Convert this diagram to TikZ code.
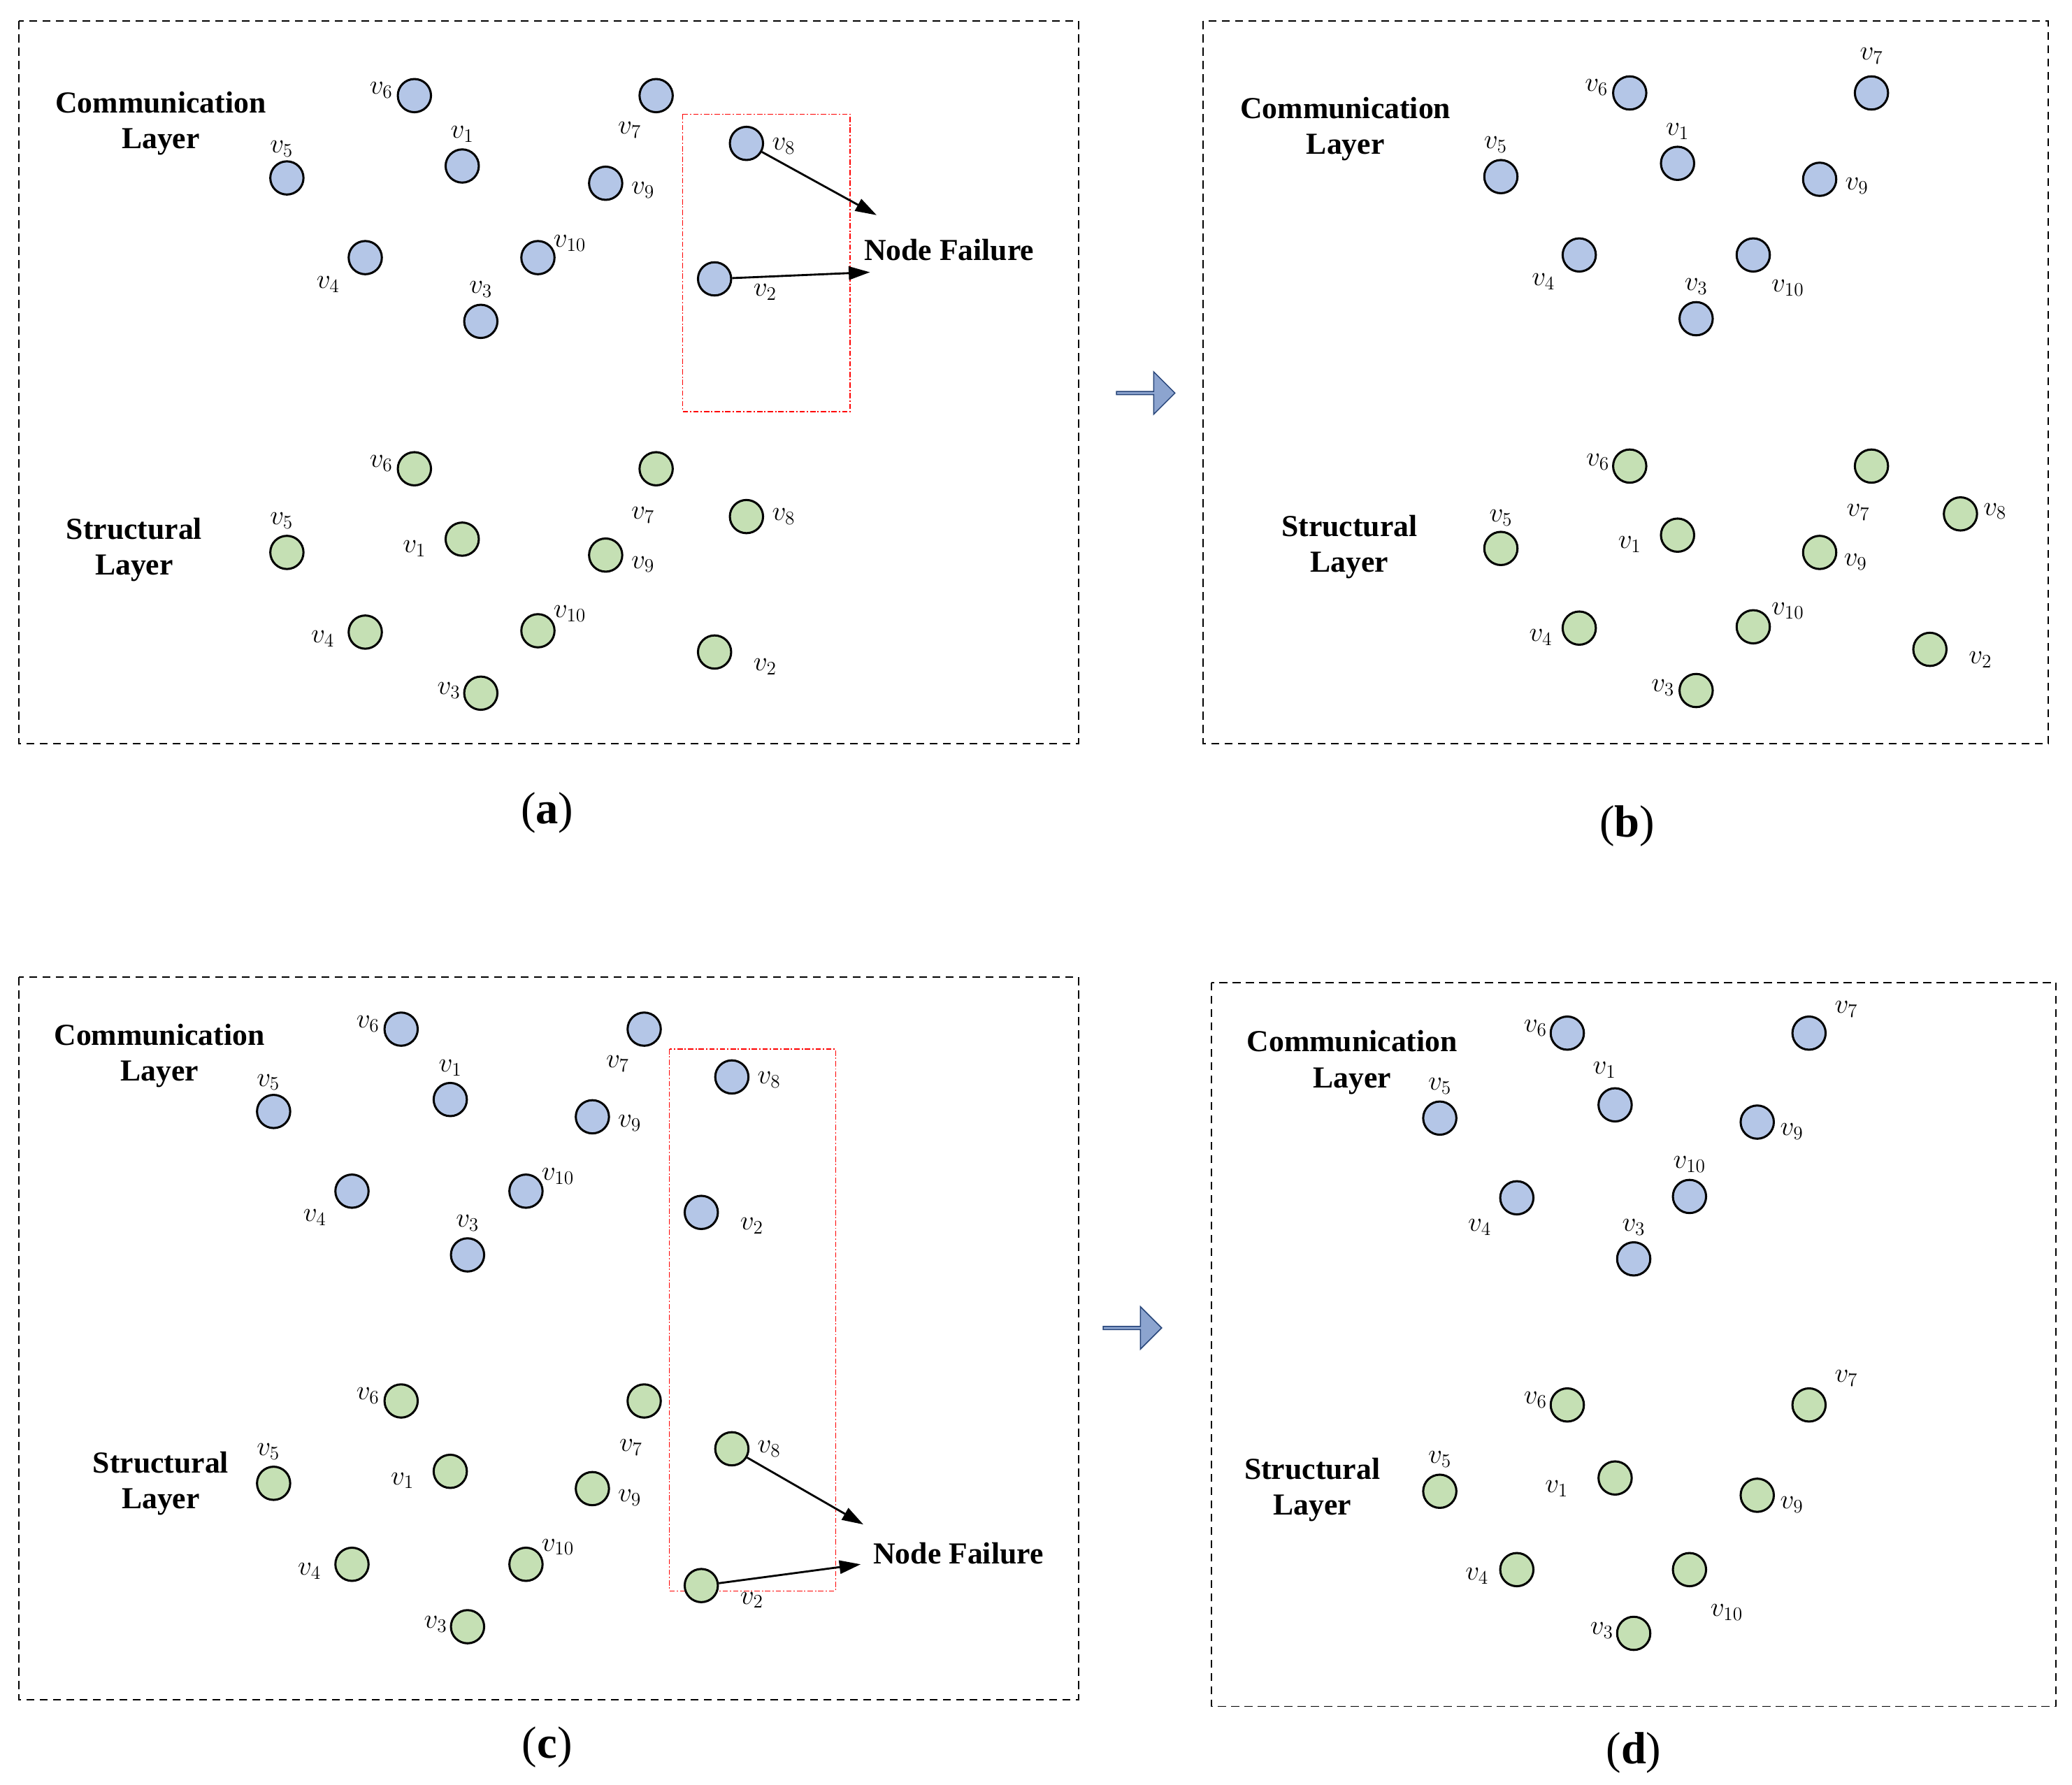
\documentclass[tikz,border=0pt]{standalone}
\usepackage{fontspec}
\setmainfont{Liberation Serif}
\usetikzlibrary{calc,arrows.meta,shapes.arrows}
\pgfdeclarelayer{bg}\pgfsetlayers{bg,main}
\definecolor{cfill}{HTML}{B4C6E7}
\definecolor{sfill}{HTML}{C5E0B4}
\definecolor{dblue}{HTML}{2F5597}
\tikzset{
 cn/.style={circle,draw=black,line width=1.6pt,fill=cfill,minimum size=25pt,inner sep=0pt},
 sn/.style={circle,draw=black,line width=1.6pt,fill=sfill,minimum size=25pt,inner sep=0pt},
 lab/.style={font=\fontsize{22}{22}\selectfont,inner sep=0pt},
 ed/.style={line width=1.5pt,black},
 redge/.style={line width=1.8pt,draw=red},
 vd/.style={dblue,line width=1.1pt,dash pattern=on 7pt off 4pt},
 box/.style={draw=black,line width=1pt,dash pattern=on 6pt off 4pt},
 rbox/.style={draw=red,line width=0.6pt,dash pattern=on 4pt off 1.5pt on 1pt off 1.5pt},
 layer/.style={font=\fontsize{23}{27}\selectfont\bfseries,align=center},
 capt/.style={font=\fontsize{34}{34}\selectfont},
 nf/.style={font=\fontsize{23}{23}\selectfont\bfseries},
 arr/.style={line width=1.5pt,-{Triangle[length=16pt,width=10pt]}},
 bigarr/.style={single arrow,draw=dblue!80!black,fill=cfill!70!dblue,line width=0.8pt,minimum height=44pt,minimum width=32pt,single arrow head extend=5pt,inner sep=0pt}
}
\newcommand\vn[6]{\node[#2] (#1) at (#3,#4) {}; \node[lab] (#1t) at ($(#1)+(#5)$) {$v_{#6}$};}
\begin{document}
\begin{tikzpicture}[x=1pt,y=-1pt]
\useasboundingbox (0,0) rectangle (1560,1344);
\fill[white] (0,0) rectangle (1560,1344);
% boxes
\draw[box] (14,16) rectangle (812,560);
\draw[box] (906,16) rectangle (1542,560);
\draw[box] (14,736) rectangle (812,1280);
\draw[box] (912,740) rectangle (1548,1285);
\draw[rbox] (514,86) rectangle (640,310);
\draw[rbox] (504,790) rectangle (629,1198);
% ===== panel a =====
\vn{ac6}{cn}{312}{72}{-25,-4}{6}
\vn{ac7}{cn}{494}{72}{-20,26}{7}
\vn{ac1}{cn}{348}{125}{0,-24}{1}
\vn{ac5}{cn}{216}{134}{-4,-22}{5}
\vn{ac9}{cn}{456}{138}{28,5}{9}
\vn{ac8}{cn}{562}{108}{28,2}{8}
\vn{ac4}{cn}{275}{194}{-28,20}{4}
\vn{ac10}{cn}{405}{194}{24,-11}{10}
\vn{ac2}{cn}{538}{210}{38,10}{2}
\vn{ac3}{cn}{362}{242}{0,-24}{3}
\vn{as6}{sn}{312}{353}{-25,-4}{6}
\vn{as7}{sn}{494}{353}{-10,35}{7}
\vn{as1}{sn}{348}{406}{-36,7}{1}
\vn{as5}{sn}{216}{416}{-4,-24}{5}
\vn{as9}{sn}{456}{418}{28,7}{9}
\vn{as8}{sn}{562}{389}{28,0}{8}
\vn{as4}{sn}{275}{476}{-32,5}{4}
\vn{as10}{sn}{405}{475}{24,-13}{10}
\vn{as2}{sn}{538}{491}{38,11}{2}
\vn{as3}{sn}{362}{522}{-24,-2}{3}
% ===== panel c =====
\vn{cc6}{cn}{302}{775}{-25,-4}{6}
\vn{cc7}{cn}{485}{775}{-20,26}{7}
\vn{cc1}{cn}{339}{828}{0,-24}{1}
\vn{cc5}{cn}{206}{837}{-4,-22}{5}
\vn{cc9}{cn}{446}{841}{28,5}{9}
\vn{cc8}{cn}{551}{811}{28,2}{8}
\vn{cc4}{cn}{265}{897}{-28,20}{4}
\vn{cc10}{cn}{396}{897}{24,-11}{10}
\vn{cc2}{cn}{528}{913}{38,10}{2}
\vn{cc3}{cn}{352}{945}{0,-24}{3}
\vn{cs6}{sn}{302}{1055}{-25,-4}{6}
\vn{cs7}{sn}{485}{1055}{-10,35}{7}
\vn{cs1}{sn}{339}{1108}{-36,7}{1}
\vn{cs5}{sn}{206}{1117}{-4,-24}{5}
\vn{cs9}{sn}{446}{1121}{28,7}{9}
\vn{cs8}{sn}{551}{1091}{28,0}{8}
\vn{cs4}{sn}{265}{1178}{-32,5}{4}
\vn{cs10}{sn}{396}{1178}{24,-13}{10}
\vn{cs2}{sn}{528}{1194}{38,11}{2}
\vn{cs3}{sn}{352}{1225}{-24,-2}{3}
% ===== panel b =====
\vn{bc6}{cn}{1227}{70}{-25,-4}{6}
\vn{bc7}{cn}{1409}{70}{0,-28}{7}
\vn{bc1}{cn}{1263}{123}{0,-24}{1}
\vn{bc5}{cn}{1130}{133}{-4,-24}{5}
\vn{bc9}{cn}{1370}{135}{28,5}{9}
\vn{bc4}{cn}{1189}{192}{-27,20}{4}
\vn{bc10}{cn}{1320}{192}{26,25}{10}
\vn{bc3}{cn}{1277}{240}{0,-24}{3}
\vn{bs6}{sn}{1227}{351}{-24,-3}{6}
\vn{bs7}{sn}{1409}{351}{-10,35}{7}
\vn{bs1}{sn}{1263}{403}{-36,7}{1}
\vn{bs5}{sn}{1130}{413}{0,-23}{5}
\vn{bs9}{sn}{1370}{416}{27,7}{9}
\vn{bs8}{sn}{1476}{387}{26,-2}{8}
\vn{bs4}{sn}{1189}{473}{-29,7}{4}
\vn{bs10}{sn}{1320}{472}{26,-12}{10}
\vn{bs2}{sn}{1453}{489}{38,8}{2}
\vn{bs3}{sn}{1277}{520}{-25,-2}{3}
% ===== panel d =====
\vn{dc6}{cn}{1180}{778}{-24,-4}{6}
\vn{dc7}{cn}{1362}{778}{28,-18}{7}
\vn{dc1}{cn}{1216}{832}{-8,-26}{1}
\vn{dc5}{cn}{1084}{842}{0,-24}{5}
\vn{dc9}{cn}{1323}{845}{26,7}{9}
\vn{dc4}{cn}{1142}{902}{-28,22}{4}
\vn{dc10}{cn}{1272}{901}{0,-24}{10}
\vn{dc3}{cn}{1230}{948}{0,-24}{3}
\vn{ds6}{sn}{1180}{1058}{-24,-4}{6}
\vn{ds7}{sn}{1362}{1058}{28,-20}{7}
\vn{ds1}{sn}{1216}{1113}{-44,8}{1}
\vn{ds5}{sn}{1084}{1123}{0,-24}{5}
\vn{ds9}{sn}{1323}{1126}{26,7}{9}
\vn{ds4}{sn}{1142}{1182}{-30,5}{4}
\vn{ds10}{sn}{1272}{1182}{28,32}{10}
\vn{ds3}{sn}{1230}{1230}{-24,-2}{3}
% edges and dashes behind nodes
\begin{pgfonlayer}{bg}
\foreach \p in {ac,as,cc,cs,bs}{
 \foreach \a/\b in {5/6,6/7,6/1,1/7,1/9,1/4,1/10,5/4,4/3,3/10,10/2,3/2,9/8,9/2,7/8,8/2}
  \draw[ed] (\p\a) -- (\p\b);
}
\foreach \p in {bc,dc,ds}{
 \foreach \a/\b in {5/6,6/7,6/1,1/7,1/9,1/4,1/10,5/4,4/3,3/10}
  \draw[ed] (\p\a) -- (\p\b);
 \draw[redge] (\p10) -- (\p9);
 \draw[redge] (\p9) -- (\p7);
}
\foreach \i in {1,...,10}{
 \draw[vd] (ac\i.center) -- (as\i.center);
 \draw[vd] (cc\i.center) -- (cs\i.center);
}
\foreach \i in {1,3,4,5,6,7,9,10}{
 \draw[vd] (bc\i.center) -- (bs\i.center);
 \draw[vd] (dc\i.center) -- (ds\i.center);
}
\end{pgfonlayer}
% node failure
\node[nf,anchor=west] (nfa) at (647,188) {Node Failure};
\coordinate (nfa1) at (660,162);
\coordinate (nfa2) at (655,205);
\draw[arr] (ac8) -- (nfa1);
\draw[arr] (ac2) -- (nfa2);
\node[nf,anchor=west] (nfc) at (654,1170) {Node Failure};
\coordinate (nfc1) at (650,1148);
\coordinate (nfc2) at (648,1178);
\draw[arr] (cs8) -- (nfc1);
\draw[arr] (cs2) -- (nfc2);
% layer labels
\node[layer] (la1) at (121,93) {Communication\\Layer};
\node[layer] (la2) at (101,414) {Structural\\Layer};
\node[layer] (lb1) at (1013,97) {Communication\\Layer};
\node[layer] (lb2) at (1016,412) {Structural\\Layer};
\node[layer] (lc1) at (120,795) {Communication\\Layer};
\node[layer] (lc2) at (121,1117) {Structural\\Layer};
\node[layer] (ld1) at (1018,800) {Communication\\Layer};
\node[layer] (ld2) at (988,1122) {Structural\\Layer};
% big arrows
\node[bigarr] (ba1) at (862,296) {};
\node[bigarr] (ba2) at (852,1000) {};
% captions
\node[capt] (capa) at (412,612) {(\textbf{a})};
\node[capt] (capb) at (1225,622) {(\textbf{b})};
\node[capt] (capc) at (412,1316) {(\textbf{c})};
\node[capt] (capd) at (1230,1320) {(\textbf{d})};
\end{tikzpicture}
\end{document}
